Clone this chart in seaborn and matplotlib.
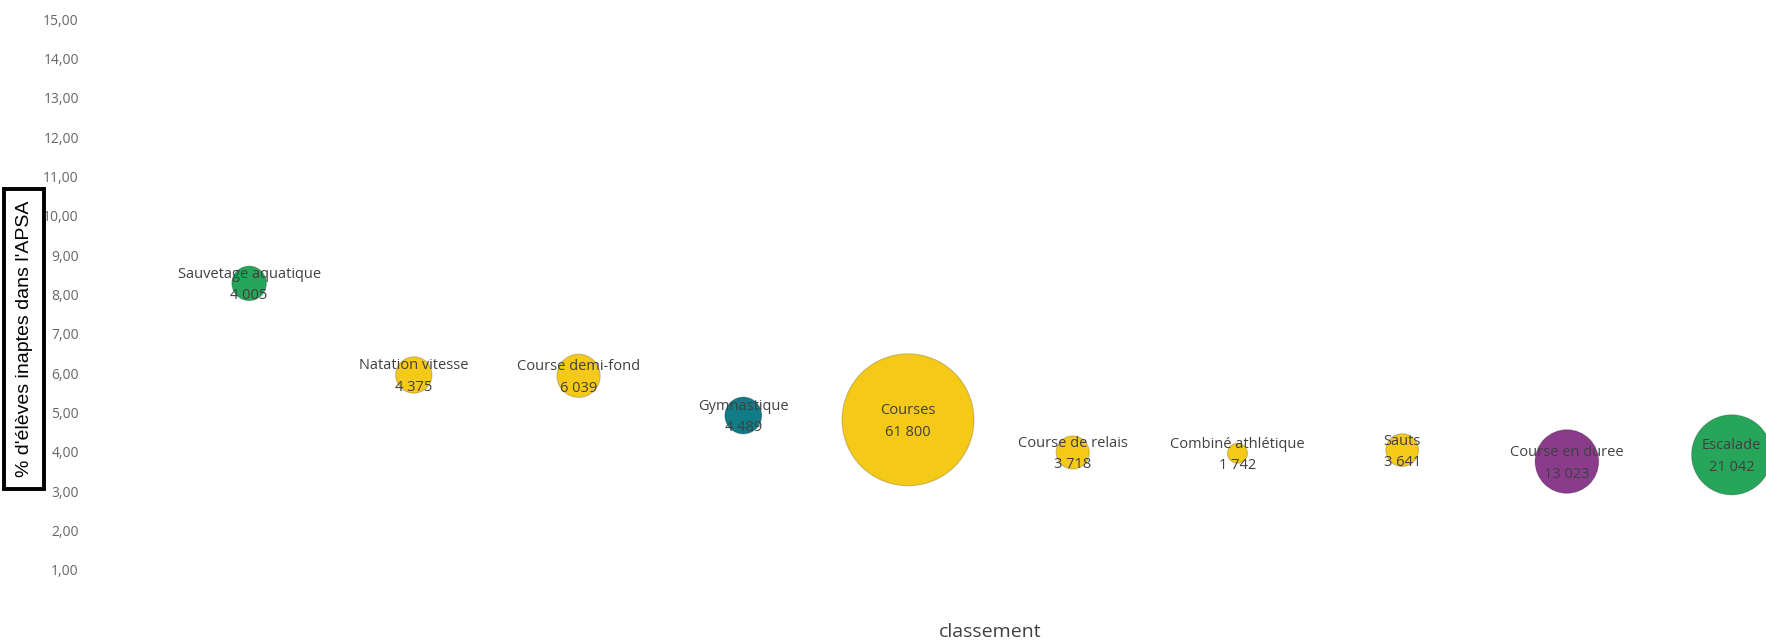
import matplotlib
matplotlib.use("Agg")
import matplotlib.pyplot as plt
import seaborn as sns
import pandas as pd

# data
activites = ["Sauvetage aquatique", "Natation vitesse", "Course demi-fond", "Gymnastique",
             "Courses", "Course de relais", "Combiné athlétique", "Sauts",
             "Course en duree", "Escalade"]
classement = [1, 2, 3, 4, 5, 6, 7, 8, 9, 10]
pct_inaptes = [8.28, 5.95, 5.93, 4.92, 4.81, 3.98, 3.96, 4.04, 3.75, 3.92]
effectifs = [4005, 4375, 6039, 4489, 61800, 3718, 1742, 3641, 13023, 21042]
couleurs = ["#27A55A", "#F5C918", "#F5C918", "#107C87", "#F5C918",
            "#F5C918", "#F5C918", "#F5C918", "#8B3B8B", "#27A55A"]

df = pd.DataFrame({"activite": activites, "classement": classement,
                   "pct": pct_inaptes, "effectif": effectifs})
# bubble area grows a bit slower than the count (like the original tool)
df["poids"] = df["effectif"] ** 0.9

sns.set_style("white")
plt.rcParams["font.family"] = ["Open Sans", "DejaVu Sans"]

fig = plt.figure(figsize=(17.66, 6.43), dpi=100)
ax = fig.add_axes([0.0478, 0.0529, 1.026, 0.948])

sns.scatterplot(data=df, x="classement", y="pct", hue="activite", size="poids",
                sizes=(207, 9030), palette=dict(zip(activites, couleurs)),
                edgecolor="#00000030", linewidth=0.8, legend=False, ax=ax, zorder=2)

for _, r in df.iterrows():
    txt = f"{r.effectif:,}".replace(",", " ")
    ax.annotate(r.activite, (r.classement, r.pct), xytext=(0, 6.5), textcoords="offset points",
                ha="center", va="center", fontsize=10.5, color="#404040", zorder=3)
    ax.annotate(txt, (r.classement, r.pct), xytext=(0, -9), textcoords="offset points",
                ha="center", va="center", fontsize=10.5, color="#404040", zorder=3)

ax.set_xlim(0, 11)
ax.set_ylim(0, 15.5)
ax.set_yticks(range(1, 16))
ax.set_yticklabels([f"{v},00" for v in range(1, 16)], fontsize=10, color="#666666")
ax.set_xticks([])
ax.tick_params(axis="y", length=0, pad=4)
sns.despine(ax=ax, left=True, bottom=True)
ax.set_ylabel("")
ax.set_xlabel("classement", fontsize=14, color="#404040", labelpad=10)

fig.text(0.0136, 0.473, "% d'élèves inaptes dans l'APSA", rotation=90, ha="center", va="center",
         fontsize=14, family=["Liberation Sans", "DejaVu Sans"], color="black",
         bbox=dict(boxstyle="square,pad=0.6", facecolor="white", edgecolor="black", linewidth=2.8))

fig.savefig("out.png", dpi=100)
